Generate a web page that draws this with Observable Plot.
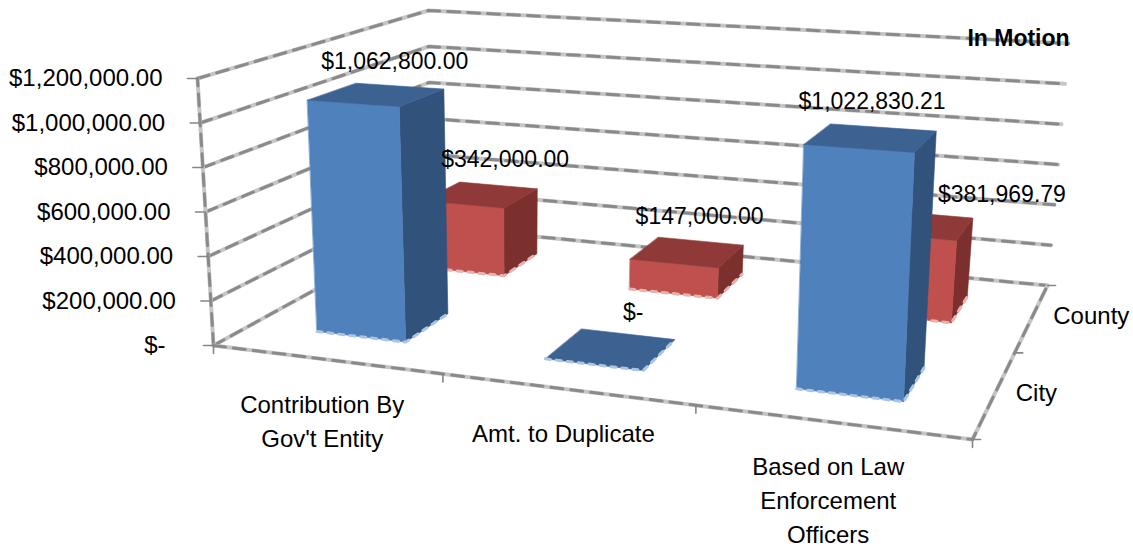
<!DOCTYPE html>
<html>
<head>
<meta charset="utf-8">
<script src="https://cdn.jsdelivr.net/npm/d3@7"></script>
<script src="https://cdn.jsdelivr.net/npm/@observablehq/plot@0.6"></script>
<style>
html,body{margin:0;padding:0;background:#fff;}
svg{display:block;}
</style>
</head>
<body>
<div id="chart"></div>
<script>
const categories = ["Contribution By\nGov't Entity", "Amt. to Duplicate", "Based on Law\nEnforcement\nOfficers"];
const seriesNames = ["City", "County"];
const cityValues = [1062800, 0, 1022830.21];
const countyValues = [342000, 147000, 381969.79];
const tickValues = [0, 200000, 400000, 600000, 800000, 1000000, 1200000];
const chartTitle = "In Motion";
const maxValue = 1200000;

// 3-D view: floor and ceiling corners of the plot box on the page
const view = {
  floor: {fl:[213,345], fr:[972,439], br:[1047,285], bl:[430,226]},
  top:   {fl:[197,78],  fr:[987,130], br:[1068,43],  bl:[428,10]}
};
const warpU = u => 0.86*u + 0.14*u*u;
const warpV = v => 1.25*v - 0.25*v*v;
const bilinear = (q,u,v) => [0,1].map(i =>
  (1-v)*((1-u)*q.fl[i] + u*q.fr[i]) + v*((1-u)*q.bl[i] + u*q.br[i]));
function project(c, s, val){           // c: 0..3 along categories, s: 0..2 in depth
  const u = warpU(c/categories.length), v = warpV(s/seriesNames.length);
  const a = bilinear(view.floor,u,v), b = bilinear(view.top,u,v), t = val/maxValue;
  return {x:a[0]+(b[0]-a[0])*t, y:a[1]+(b[1]-a[1])*t};
}

const palette = [
  {front:"#4f81bd", top:"#3c6292", side:"#31527a", edge:"#a9c4e4"},
  {front:"#c0504d", top:"#8f3a38", side:"#7b302e", edge:"#e6b1af"}
];
const halfW = 0.2, halfD = 0.2;

const marks = [];
const wall = (pts) => [
  Plot.line(pts,{x:"x",y:"y",stroke:"#c6c6c6",strokeWidth:4}),
  Plot.line(pts,{x:"x",y:"y",stroke:"#8a8a8a",strokeWidth:3,strokeDasharray:"12 8"})
];
// walls
tickValues.forEach(t => marks.push(...wall([project(0,0,t),project(0,2,t),project(3,2,t)])));
marks.push(...wall([project(0,0,0),project(0,0,maxValue)]));
marks.push(...wall([project(0,0,0),project(3,0,0),project(3,2,0)]));
// tick marks
const seg = (a,b) => Plot.line([a,b],{x:"x",y:"y",stroke:"#868686",strokeWidth:1.6});
tickValues.forEach(t => { const p = project(0,0,t); marks.push(seg(p,{x:p.x-10,y:p.y})); });
d3.range(0,4).forEach(c => { const p = project(c,0,0); marks.push(seg(p,{x:p.x,y:p.y+8})); });
d3.range(0,3).forEach(s => { const p = project(3,s,0); marks.push(seg(p,{x:p.x+8,y:p.y})); });

// bars, back to front
function bar(c, s, val, col){
  const x0=c+0.5-halfW, x1=c+0.5+halfW, y0=s+0.5-halfD, y1=s+0.5+halfD;
  const poly = (pts,fill) => marks.push(Plot.line(pts,{x:"x",y:"y",fill,stroke:fill,strokeWidth:0.6,curve:"linear-closed"}));
  if (val>0){
    poly([project(x1,y0,0),project(x1,y1,0),project(x1,y1,val),project(x1,y0,val)],col.side);
    poly([project(x0,y0,0),project(x1,y0,0),project(x1,y0,val),project(x0,y0,val)],col.front);
  }
  poly([project(x0,y0,val),project(x1,y0,val),project(x1,y1,val),project(x0,y1,val)],col.top);
  marks.push(Plot.line([project(x0,y0,0),project(x1,y0,0),project(x1,y1,0)],
    {x:"x",y:"y",stroke:col.edge,strokeWidth:3,strokeDasharray:"5 6"}));
}
categories.forEach((_,c)=>{
  bar(c,1,countyValues[c],palette[1]);
  bar(c,0,cityValues[c],palette[0]);
});

// text
const font = {fontFamily:"'Liberation Sans', Arial, sans-serif", fontSize:24, fill:"#000"};
const dataFont = {...font, fontSize:23};
const money = v => v===0 ? "$-" : d3.format("$,.2f")(v);
const yLabels = tickValues.map(t => { const p = project(0,0,t); return {x:p.x-(t===0?48:35), y:p.y, label:money(t)}; });
marks.push(Plot.text(yLabels,{x:"x",y:"y",text:"label",textAnchor:"end",...font}));

const catLabels = categories.map((label,c)=>({...project(c+0.5,0,0),label}));
marks.push(Plot.text(catLabels,{x:"x",y:"y",text:"label",dx:-3,dy:29,lineAnchor:"top",lineHeight:1.42,textAnchor:"middle",...font}));

const serLabels = seriesNames.map((label,s)=>({...project(3,s+0.5,0),label}));
marks.push(Plot.text(serLabels,{x:"x",y:"y",text:"label",dx:21,textAnchor:"start",...font}));

// value labels, nudged the way the spreadsheet placed them
const nudge = {
  City:[[18,-33],[22,-36],[1,-36]],
  County:[[24,-35],[12,-35],[85,-30]]
};
const valueLabels = [];
categories.forEach((_,c)=>{
  [[countyValues,1,"County"],[cityValues,0,"City"]].forEach(([vals,s,name])=>{
    const p = project(c+0.5,s+0.5,vals[c]);
    valueLabels.push({x:p.x+nudge[name][c][0], y:p.y+nudge[name][c][1], label:money(vals[c])});
  });
});
marks.push(Plot.text(valueLabels,{x:"x",y:"y",text:"label",...dataFont}));

marks.push(Plot.text([{x:1018,y:38,label:chartTitle}],{x:"x",y:"y",text:"label",...font,fontSize:23,fontWeight:"bold"}));

const chart = Plot.plot({
  width:1133, height:549, margin:0,
  x:{domain:[0,1133],range:[0,1133],axis:null},
  y:{domain:[0,549],range:[0,549],axis:null},
  style:{background:"#fff"},
  marks
});
document.getElementById("chart").appendChild(chart);
</script>
</body>
</html>
